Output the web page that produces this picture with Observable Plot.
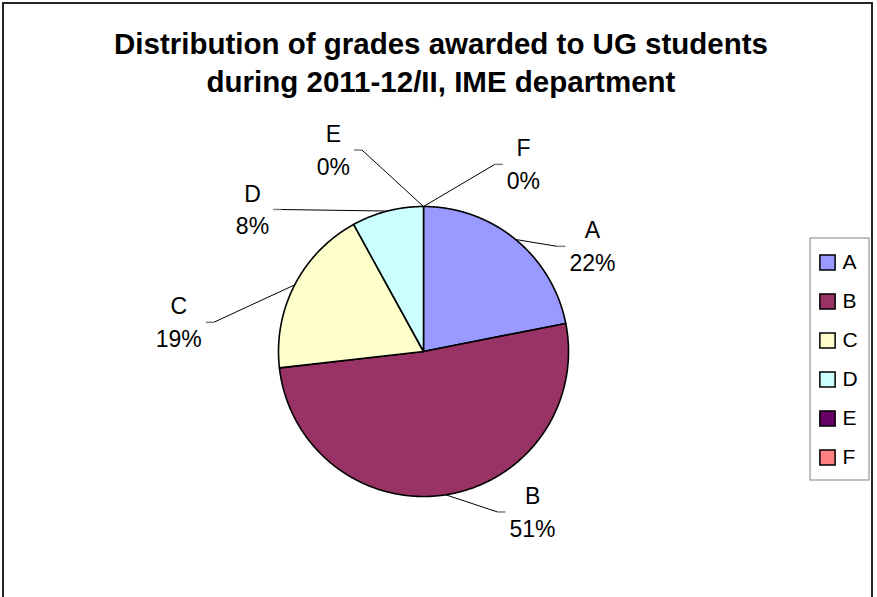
<!DOCTYPE html>
<html><head><meta charset="utf-8">
<script src="https://cdn.jsdelivr.net/npm/d3@7"></script>
<script src="https://cdn.jsdelivr.net/npm/@observablehq/plot@0.6"></script>
<style>
html,body{margin:0;padding:0;background:#fff;overflow:hidden}
#wrap{position:relative;width:877px;height:597px;font-family:"Liberation Sans",Arial,sans-serif}
#main svg{position:absolute;left:0;top:0}
#legend{position:absolute;left:809px;top:237px;width:60px;height:243px}
#legend svg{display:block;max-width:none!important}
#border{position:absolute;left:2px;top:2px;width:871px;height:700px;border:2px solid #262626;box-sizing:border-box;pointer-events:none}
#err{position:absolute;left:10px;top:520px;color:red;font-size:12px}
</style></head><body>
<div id="wrap"><div id="main"></div><div id="legend"></div><div id="border"></div><div id="err"></div></div>
<script>
// ---- data ----
const grades = ["A", "B", "C", "D", "E", "F"];
const shares = [21.9, 51.3, 18.8, 8.0, 0, 0];           // percent of students
const colors = ["#9999FF", "#993366", "#FFFFCC", "#CCFFFF", "#660066", "#FF8080"];
const titleLines = ["Distribution of grades awarded to UG students", "during 2011-12/II, IME department"];

// ---- label layout (polar: degrees clockwise from 12 o'clock, radius in pie radii) ----
const labelAngle = [58.1, 145.8, 276.8, 309.7, 335.9, 28.1];
const labelRadius = [1.372, 1.338, 1.70, 1.533, 1.522, 1.463];

const W = 877, H = 597, CX = 423, CY = 351, R = 145;
const FONT = "Liberation Sans, Arial, sans-serif";
const LABEL_SIZE = 23;

try {
const arcs = d3.pie().sort(null).value((d, i) => shares[i]).startAngle(0).endAngle(2 * Math.PI)(grades);

const slices = [];
arcs.forEach(a => {
  const span = a.endAngle - a.startAngle;
  if (span <= 0) return;
  slices.push({g: a.data, x: 0, y: 0});
  const n = Math.max(2, Math.ceil(span / 0.005));
  for (let k = 0; k <= n; k++) {
    const t = a.startAngle + span * k / n;
    slices.push({g: a.data, x: Math.sin(t), y: Math.cos(t)});
  }
});

const ctx = document.createElement("canvas").getContext("2d");
ctx.font = `${LABEL_SIZE}px "Liberation Sans"`;
const pct = d3.format(".0%");

const labels = arcs.map((a, i) => {
  const mid = (a.startAngle + a.endAngle) / 2;
  const th = labelAngle[i] * Math.PI / 180, r = labelRadius[i];
  const lx = r * Math.sin(th), ly = r * Math.cos(th);
  const lines = [grades[i], pct(shares[i] / 100)];
  const halfW = d3.max(lines, s => ctx.measureText(s).width) / 2 / R;
  const side = lx >= 0 ? -1 : 1;
  const cx = lx + side * (halfW + 4 / R);
  const bx = cx + side * 8 / R;
  return {g: grades[i], text: lines.join("\n"), lx, ly, ex: Math.sin(mid), ey: Math.cos(mid), bx, by: ly, cx};
});

const main = Plot.plot({
  width: W, height: H, margin: 0,
  x: {domain: [-1, 1], range: [CX - R, CX + R], axis: null},
  y: {domain: [-1, 1], range: [CY + R, CY - R], axis: null},
  color: {domain: grades, range: colors},
  style: {fontFamily: FONT, background: "transparent", overflow: "visible", color: "black"},
  marks: [
    Plot.line(slices, {x: "x", y: "y", z: "g", fill: "g", stroke: "black", strokeWidth: 1.6, curve: "linear-closed", strokeLinejoin: "round"}),
    Plot.link(labels, {x1: "ex", y1: "ey", x2: "bx", y2: "by", stroke: "black", strokeWidth: 1}),
    Plot.link(labels, {x1: "bx", y1: "by", x2: "cx", y2: "by", stroke: "#808080", strokeWidth: 1.5}),
    Plot.text(labels, {x: "lx", y: "ly", text: "text", fontSize: LABEL_SIZE, lineHeight: 1.43, fill: "black", dy: -2}),
    Plot.text([titleLines.join("\n")], {frameAnchor: "top", dy: 27, dx: 2, lineAnchor: "top", fontSize: 29.5, fontWeight: "bold", lineHeight: 38 / 29.5, fill: "black"})
  ]
});
document.getElementById("main").appendChild(main);
} catch (e) { document.getElementById("err").textContent += "main: " + e.message + " "; }

try {
const legend = Plot.plot({
  width: 60, height: 243, margin: 0,
  x: {domain: [0, 60], range: [0, 60], axis: null},
  y: {type: "point", domain: grades, range: [23, 221], padding: 0, axis: null},
  color: {domain: grades, range: colors},
  style: {fontFamily: FONT, fontSize: "21px", background: "transparent", overflow: "visible", color: "black"},
  marks: [
    Plot.frame({stroke: "#808080", strokeWidth: 1, inset: 0.5}),
    Plot.dot(grades, {x: () => 18, y: d => d, fill: d => d, symbol: "square", r: 8.6, stroke: "black", strokeWidth: 1.5}),
    Plot.text(grades, {x: () => 33, y: d => d, textAnchor: "start", fontSize: "21px", fill: "black"})
  ]
});
document.getElementById("legend").appendChild(legend);
} catch (e) { document.getElementById("err").textContent += "legend: " + e.message + " "; }
</script>
</body></html>
